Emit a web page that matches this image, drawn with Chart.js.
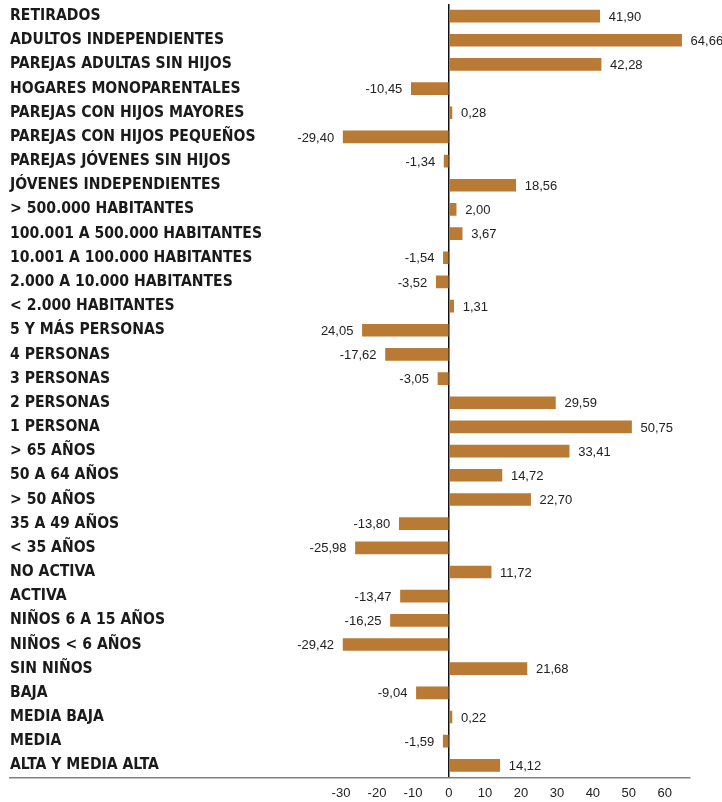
<!DOCTYPE html>
<html>
<head>
<meta charset="utf-8">
<script src="https://cdn.jsdelivr.net/npm/chart.js@4.4.1/dist/chart.umd.min.js"></script>
<style>
  html, body { margin: 0; padding: 0; background: #fff; }
  #wrap { width: 722px; height: 802px; position: relative; }
</style>
</head>
<body>
<div id="wrap"><canvas id="chart"></canvas></div>
<script>
// Categorías (de arriba a abajo)
const categorias = [
    "RETIRADOS", "ADULTOS INDEPENDIENTES", "PAREJAS ADULTAS SIN HIJOS", "HOGARES MONOPARENTALES",
    "PAREJAS CON HIJOS MAYORES", "PAREJAS CON HIJOS PEQUEÑOS", "PAREJAS JÓVENES SIN HIJOS", "JÓVENES INDEPENDIENTES",
    "> 500.000 HABITANTES", "100.001 A 500.000 HABITANTES", "10.001 A 100.000 HABITANTES", "2.000 A 10.000 HABITANTES",
    "< 2.000 HABITANTES", "5 Y MÁS PERSONAS", "4 PERSONAS", "3 PERSONAS", "2 PERSONAS", "1 PERSONA",
    "> 65 AÑOS", "50 A 64 AÑOS", "> 50 AÑOS", "35 A 49 AÑOS", "< 35 AÑOS", "NO ACTIVA", "ACTIVA",
    "NIÑOS 6 A 15 AÑOS", "NIÑOS < 6 AÑOS", "SIN NIÑOS", "BAJA", "MEDIA BAJA", "MEDIA", "ALTA Y MEDIA ALTA"
];

const valores = [
    41.90, 64.66, 42.28, -10.45, 0.28, -29.40, -1.34, 18.56,
    2.00, 3.67, -1.54, -3.52, 1.31, -24.05, -17.62, -3.05, 29.59, 50.75,
    33.41, 14.72, 22.70, -13.80, -25.98, 11.72, -13.47,
    -16.25, -29.42, 21.68, -9.04, 0.22, -1.59, 14.12
];

// Texto de las etiquetas tal como aparece en el gráfico
const etiquetas = [
    "41,90", "64,66", "42,28", "-10,45", "0,28", "-29,40", "-1,34", "18,56",
    "2,00", "3,67", "-1,54", "-3,52", "1,31", "24,05", "-17,62", "-3,05", "29,59", "50,75",
    "33,41", "14,72", "22,70", "-13,80", "-25,98", "11,72", "-13,47",
    "-16,25", "-29,42", "21,68", "-9,04", "0,22", "-1,59", "14,12"
];

const ticksX = [-30, -20, -10, 0, 10, 20, 30, 40, 50, 60];

// Etiquetas de valor junto a cada barra
const valueLabels = {
    id: "valueLabels",
    afterDatasetsDraw(chart) {
        const ctx = chart.ctx;
        const meta = chart.getDatasetMeta(0);
        const zero = chart.scales.x.getPixelForValue(0);
        ctx.save();
        ctx.font = "13px 'Liberation Sans', Arial, sans-serif";
        ctx.fillStyle = "#222";
        ctx.textBaseline = "middle";
        meta.data.forEach((bar, i) => {
            const v = valores[i];
            if (v >= 0) {
                ctx.textAlign = "left";
                ctx.fillText(etiquetas[i], Math.max(bar.x, zero + 3) + 9, bar.y + 1);
            } else {
                ctx.textAlign = "right";
                ctx.fillText(etiquetas[i], Math.min(bar.x, zero - 3) - 9, bar.y + 1);
            }
        });
        ctx.restore();
    }
};

new Chart(document.getElementById("chart").getContext("2d"), {
    type: "bar",
    data: {
        labels: categorias,
        datasets: [{
            data: valores,
            backgroundColor: "#B87A34",
            borderWidth: 0,
            barThickness: 12,
            minBarLength: 3,
        }]
    },
    options: {
        indexAxis: "y",
        responsive: true,
        maintainAspectRatio: false,
        animation: false,
        layout: {
            padding: { left: 10, right: 32, top: 4, bottom: -7 }
        },
        plugins: {
            legend: { display: false },
            tooltip: { enabled: false },
        },
        scales: {
            x: {
                min: -122,
                max: 67,
                afterBuildTicks: (scale) => {
                    scale.ticks = ticksX.map(v => ({ value: v }));
                },
                grid: {
                    drawTicks: false,
                    color: (c) => c.tick && c.tick.value === 0 ? "#111" : "transparent",
                    lineWidth: 1.5,
                },
                border: { display: true, color: "#808080", width: 1.5 },
                ticks: {
                    padding: 8,
                    color: "#222",
                    font: { family: "'Liberation Sans', Arial, sans-serif", size: 13 },
                    callback: (v) => v,
                },
            },
            y: {
                grid: { display: false, drawTicks: false },
                border: { display: false },
                ticks: {
                    mirror: true,
                    padding: 0,
                    color: "#1a1a1a",
                    font: { family: "'DejaVu Sans Condensed', 'Arial Narrow', sans-serif", size: 15.6, weight: "bold", lineHeight: 0.5 },
                },
            }
        }
    },
    plugins: [valueLabels]
});
</script>
</body>
</html>
